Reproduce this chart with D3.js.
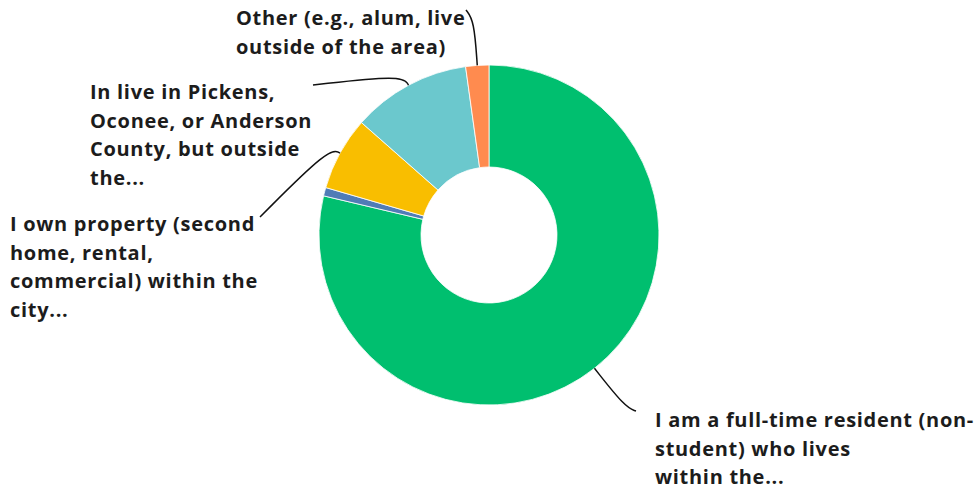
<!DOCTYPE html>
<html>
<head>
<meta charset="utf-8">
<script src="https://cdn.jsdelivr.net/npm/d3@7"></script>
<style>
  body { margin: 0; background: #fff; }
  text { font-family: "Open Sans", Lato, sans-serif; font-weight: bold; fill: #1c1c1c; letter-spacing: 0.7px; }
</style>
</head>
<body>
<svg id="chart" width="980" height="489"></svg>
<script>
const categories = [
  "I am a full-time resident (non-student) who lives within the...",
  "(unlabelled)",
  "I own property (second home, rental, commercial) within the city...",
  "In live in Pickens, Oconee, or Anderson County, but outside the...",
  "Other (e.g., alum, live outside of the area)"
];
const values = [78.7, 0.8, 7.0, 11.3, 2.2];
const colors = ["#00bf6f", "#507cb6", "#f9be00", "#6bc8cd", "#ff8b4f"];
// label text as wrapped in the picture (empty = no label)
const labelLines = [
  ["I am a full-time resident (non-", "student) who lives", "within the..."],
  [],
  ["I own property (second", "home, rental,", "commercial) within the", "city..."],
  ["In live in Pickens,", "Oconee, or Anderson", "County, but outside", "the..."],
  ["Other (e.g., alum, live", "outside of the area)"]
];

const svg = d3.select("#chart");
const width = 980, height = 489;
const cx = 489, cy = 235, outerR = 170, innerR = 68;
const lineH = 28.5;

const g = svg.append("g").attr("transform", `translate(${cx},${cy})`);

const pie = d3.pie().sort(null).value(d => d.value);
const arc = d3.arc().innerRadius(innerR).outerRadius(outerR);

const data = pie(categories.map((c, i) => ({ name: c, value: values[i], color: colors[i], lines: labelLines[i] })));

g.selectAll("path.slice")
  .data(data)
  .enter()
  .append("path")
  .attr("class", "slice")
  .attr("d", arc)
  .attr("fill", d => d.data.color)
  .attr("stroke", "#fff")
  .attr("stroke-width", 0.8);

// label placement (absolute page coords of first baseline) and leader elbow distance
const labelPos = [
  { x: 655, y: 427, elbow: 50, end: [636, 411] },
  null,
  { x: 10, y: 231, elbow: 12, end: [260, 217] },
  { x: 90, y: 99, elbow: 12, end: [313, 85] },
  { x: 236, y: 25, elbow: 45, end: [466, 10] }
];

const pointAt = (a, r) => [Math.sin(a) * r, -Math.cos(a) * r];
const curve = d3.line().curve(d3.curveBasis);

data.forEach((d, i) => {
  const p = labelPos[i];
  if (!p) return;
  const mid = (d.startAngle + d.endAngle) / 2;
  const s = pointAt(mid, outerR);
  const e = pointAt(mid, outerR + p.elbow);
  const end = [p.end[0] - cx, p.end[1] - cy];
  g.append("path")
    .attr("d", curve([s, s, e, end, end]))
    .attr("fill", "none")
    .attr("stroke", "#111")
    .attr("stroke-width", 1.5);

  const t = svg.append("text")
    .attr("x", p.x)
    .attr("y", p.y)
    .attr("font-size", "20px");
  d.data.lines.forEach((ln, j) => {
    t.append("tspan").attr("x", p.x).attr("dy", j === 0 ? 0 : lineH).text(ln);
  });
});
</script>
</body>
</html>
